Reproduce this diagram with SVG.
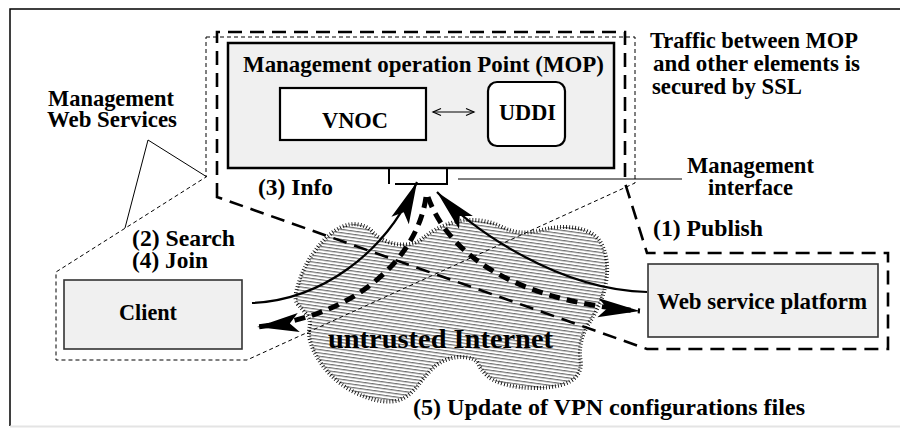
<svg xmlns="http://www.w3.org/2000/svg" width="900" height="428" viewBox="0 0 900 428">
<style>
  text { font-family: "Liberation Serif", "Times New Roman", serif; font-weight: bold; fill: #000; }
  .t { font-size: 22.5px; }
  .box { fill: #f0f0f0; stroke: #333; stroke-width: 1.6; }
  .inner { fill: #fff; stroke: #000; stroke-width: 2.2; }
  .thin { fill: none; stroke: #000; stroke-width: 1; }
  .thindash { fill: none; stroke: #000; stroke-width: 1; stroke-dasharray: 4 3; }
  .thickdash { fill: none; stroke: #000; stroke-width: 2.6; stroke-dasharray: 14 8; }
  .flow { fill: none; stroke: #000; stroke-width: 2.2; }
  .flowdash { fill: none; stroke: #000; stroke-width: 5; stroke-dasharray: 11 7; }
</style>
<defs>
  <pattern id="hatch" width="10" height="3.3" patternUnits="userSpaceOnUse" patternTransform="rotate(8)">
    <rect width="10" height="3.3" fill="#fff"/>
    <line x1="0" y1="1.5" x2="10" y2="1.5" stroke="#111" stroke-width="0.8"/>
  </pattern>
  <marker id="ah" markerUnits="userSpaceOnUse" markerWidth="50" markerHeight="30" refX="0" refY="0" orient="auto" overflow="visible">
    <path d="M0,0 L-42,-9.5 L-33,0 L-42,9.5 Z" fill="#000"/>
  </marker>
  <marker id="open" markerUnits="userSpaceOnUse" markerWidth="12" markerHeight="10" refX="0" refY="0" orient="auto-start-reverse" overflow="visible">
    <path d="M-8,-3.5 L0,0 L-8,3.5" fill="none" stroke="#000" stroke-width="1.2"/>
  </marker>
</defs>

<rect x="0" y="0" width="900" height="428" fill="#fff"/>
<g id="frame">
  <path d="M10,426 V9 H900" fill="none" stroke="#000" stroke-width="1.5"/>
  <line x1="10" y1="426.5" x2="900" y2="426.5" stroke="#e4e4e4" stroke-width="2"/>
</g>

<g id="internet">
  <path d="M298,304.5 Q294,300 296.5,290.5 Q299,281 303,271.5 Q307,262 313,253.5 Q319,245 326,238 Q333,231 341.5,227 Q350,223 358.5,224.5 Q367,226 372.5,232 Q378,238 387,241.5 Q396,245 406,244.5 Q416,244 422.5,238.5 Q429,233 437.5,228.5 Q446,224 457,221.5 Q468,219 480,220.5 Q492,222 502,227 Q512,232 521.5,232.5 Q531,233 542,230 Q553,227 564.5,227 Q576,227 585.5,230.5 Q595,234 600,241.5 Q605,249 606.5,260 Q608,271 606,282.5 Q604,294 599.5,304 Q595,314 589.5,322.5 Q584,331 581.5,340.5 Q579,350 580.5,359.5 Q582,369 577,375.5 Q572,382 561,385 Q550,388 534,388 Q518,388 505.5,384.5 Q493,381 487,375.5 Q481,370 478.5,364.5 Q476,359 467,357.5 Q458,356 448.5,359 Q439,362 432,369 Q425,376 419.5,383.5 Q414,391 407,396 Q400,401 391.5,401.5 Q383,402 373.5,399.5 Q364,397 354,392 Q344,387 335.5,379.5 Q327,372 320.5,362.5 Q314,353 311,344 Q308,335 309.5,327.5 Q311,320 306.5,314.5 Q302,309 298,304.5 Z" fill="url(#hatch)" stroke="#000" stroke-width="4" stroke-dasharray="0.8 2.2"/>
</g>

<g id="boundaries">
  <path class="thindash" d="M206,37 H635 V183 L247,360 H56 V272 L206,177 Z"/>
  <path class="thickdash" d="M217,197 V32 H625 V183 L647,253 H888 V349 H647 Z"/>
</g>

<g id="mop">
  <rect x="228" y="43" width="386" height="125" fill="#f0f0f0" stroke="#000" stroke-width="2.5"/>
  <text class="t" x="423.5" y="72" text-anchor="middle" textLength="361" lengthAdjust="spacingAndGlyphs">Management operation Point (MOP)</text>
</g>
<g id="vnoc">
  <rect class="inner" x="280" y="88" width="146" height="52"/>
  <text class="t" x="355" y="128" text-anchor="middle" textLength="66" lengthAdjust="spacingAndGlyphs">VNOC</text>
</g>
<g id="uddi">
  <rect class="inner" x="488" y="82" width="77" height="64" rx="9" ry="9"/>
  <text class="t" x="527.5" y="120" text-anchor="middle" textLength="57" lengthAdjust="spacingAndGlyphs">UDDI</text>
</g>
<g id="mgmt-interface">
  <line x1="389" y1="168" x2="389" y2="184" stroke="#000" stroke-width="2"/>
  <path d="M395,184 H447 V168" fill="none" stroke="#000" stroke-width="2"/>
</g>
<g id="client">
  <rect class="box" x="64" y="280" width="178" height="69"/>
  <text class="t" x="148" y="320" text-anchor="middle" textLength="58" lengthAdjust="spacingAndGlyphs">Client</text>
</g>
<g id="wsp">
  <rect class="box" x="648" y="264" width="230" height="73"/>
  <text class="t" x="762" y="309" text-anchor="middle" textLength="210" lengthAdjust="spacingAndGlyphs">Web service platform</text>
</g>

<g id="connectors">
  <line x1="433" y1="112" x2="474" y2="112" stroke="#000" stroke-width="1.2" marker-start="url(#open)" marker-end="url(#open)"/>
  <path class="thin" d="M125,228 L148,140 L207,177"/>
  <line class="thin" x1="458" y1="179" x2="682" y2="179"/>
  <path class="flow" d="M252,303 C320,300 385,255 417,182" marker-end="url(#ah)"/>
  <path class="flow" d="M647,292 C560,290 475,232 437,192" marker-end="url(#ah)"/>
  <path class="flowdash" d="M426,197 C418,255 360,316 257,327" marker-end="url(#ah)"/>
  <path class="flowdash" d="M428,197 C445,245 500,300 640,311" marker-end="url(#ah)"/>
</g>

<g id="labels">
  <text class="t" x="111" y="106" text-anchor="middle" textLength="126" lengthAdjust="spacingAndGlyphs">Management</text>
  <text class="t" x="112" y="127" text-anchor="middle" textLength="130" lengthAdjust="spacingAndGlyphs">Web Services</text>
  <text class="t" x="650" y="48" textLength="208" lengthAdjust="spacingAndGlyphs">Traffic between MOP</text>
  <text class="t" x="653" y="71" textLength="207" lengthAdjust="spacingAndGlyphs">and other elements is</text>
  <text class="t" x="652" y="93.5" textLength="150" lengthAdjust="spacingAndGlyphs">secured by SSL</text>
  <text class="t" x="750.5" y="173" text-anchor="middle" textLength="127" lengthAdjust="spacingAndGlyphs">Management</text>
  <text class="t" x="750.5" y="195" text-anchor="middle" textLength="85" lengthAdjust="spacingAndGlyphs">interface</text>
  <text class="t" x="258" y="195" textLength="75" lengthAdjust="spacingAndGlyphs">(3) Info</text>
  <text class="t" x="653" y="236" textLength="110" lengthAdjust="spacingAndGlyphs">(1) Publish</text>
  <text class="t" x="132" y="246" textLength="103" lengthAdjust="spacingAndGlyphs">(2) Search</text>
  <text class="t" x="132" y="268" textLength="76" lengthAdjust="spacingAndGlyphs">(4) Join</text>
  <text x="328" y="348" font-size="28" textLength="225" lengthAdjust="spacingAndGlyphs">untrusted Internet</text>
  <text x="413" y="415" font-size="24" textLength="392" lengthAdjust="spacingAndGlyphs">(5) Update of VPN configurations files</text>
</g>
</svg>
